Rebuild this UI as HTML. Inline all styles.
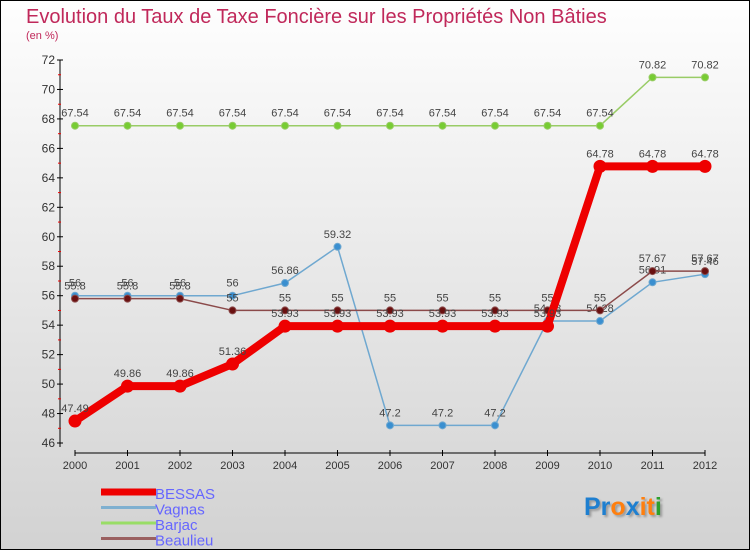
<!DOCTYPE html>
<html><head><meta charset="utf-8"><style>
body{margin:0}
#c{width:750px;height:550px;position:relative;overflow:hidden}
svg text{font-family:"Liberation Sans",sans-serif}
</style></head><body>
<div id="c">
<svg id="s" width="750" height="550" xmlns="http://www.w3.org/2000/svg">
<defs><linearGradient id="bg" x1="0" y1="0" x2="0" y2="1"><stop offset="0" stop-color="#fefefe"/><stop offset="1" stop-color="#d2d2d2"/></linearGradient></defs>
<rect x="0.5" y="0.5" width="749" height="549" fill="url(#bg)" stroke="#000"/>
<text x="26" y="23" font-size="20" fill="#c0285a">Evolution du Taux de Taxe Foncière sur les Propriétés Non Bâties</text>
<text x="26" y="39" font-size="11" fill="#c0285a">(en %)</text>
<g id="axes"></g><g id="series"></g><g id="legend"></g>
<text x="584" y="515" font-size="25" font-weight="bold" style="text-shadow:2px 2px 2px #999"><tspan fill="#1e7fd0">Pr</tspan><tspan fill="#ff7f0e">o</tspan><tspan fill="#1e7fd0">x</tspan><tspan fill="#ff7f0e">it</tspan><tspan fill="#2ca02c">i</tspan></text>
</svg></div>
<script>
const years=["2000","2001","2002","2003","2004","2005","2006","2007","2008","2009","2010","2011","2012"];
const yTicks=[46,48,50,52,54,56,58,60,62,64,66,68,70,72];
const bessas=[47.49,49.86,49.86,51.36,53.93,53.93,53.93,53.93,53.93,53.93,64.78,64.78,64.78];
const vagnas=[56,56,56,56,56.86,59.32,47.2,47.2,47.2,54.28,54.28,56.91,57.46];
const barjac=[67.54,67.54,67.54,67.54,67.54,67.54,67.54,67.54,67.54,67.54,67.54,70.82,70.82];
const beaulieu=[55.8,55.8,55.8,55,55,55,55,55,55,55,55,57.67,57.67];
const NS="http://www.w3.org/2000/svg";
const X=i=>75+i*52.5, Y=v=>443-(v-46)*(383/26);
function mk(t,a,p){const e=document.createElementNS(NS,t);for(const k in a)e.setAttribute(k,a[k]);p.appendChild(e);return e;}
const ax=document.getElementById('axes');
mk('line',{x1:60,y1:60,x2:60,y2:447,stroke:'#000'},ax);
mk('line',{x1:75,y1:453,x2:705,y2:453,stroke:'#000'},ax);
yTicks.forEach(v=>{const y=Y(v);
 mk('line',{x1:57,y1:y,x2:63,y2:y,stroke:'#000'},ax);
 if(v<72)mk('line',{x1:58,y1:y-14.7,x2:61,y2:y-14.7,stroke:'#e00'},ax);
 const t=mk('text',{x:55,y:y+4,'font-size':12,'text-anchor':'end',fill:'#333'},ax);t.textContent=v;
 });
years.forEach((yr,i)=>{mk('line',{x1:X(i),y1:450,x2:X(i),y2:456,stroke:'#000'},ax);
 const t=mk('text',{x:X(i),y:469,'font-size':11,'text-anchor':'middle',fill:'#333'},ax);t.textContent=yr;
 });
const sg=document.getElementById('series');
function draw(name,d,color,w,r,fill){
 const g=mk('g',{},sg);
 
 
 mk('polyline',{points:d.map((v,i)=>X(i)+','+Y(v)).join(' '),fill:'none',stroke:color,'stroke-width':w},g);
 d.forEach((v,i)=>{const c=mk('circle',{cx:X(i),cy:Y(v),r:r,fill:fill,stroke:color,'stroke-width':1},g);
  
  const t=mk('text',{x:X(i),y:Y(v)-9,'font-size':11,'text-anchor':'middle',fill:'#444'},g);t.textContent=String(v);
  });
}
draw('barjac',barjac,'#99cc66',1.5,3.5,'#77cc33');
draw('vagnas',vagnas,'#6fa8d0',1.5,3.5,'#3a8fd0');
draw('beaulieu',beaulieu,'#8b4a4a',1.5,3.5,'#6a1010');
draw('bessas',bessas,'#ee0000',8,6,'#ee0000');
const lg=document.getElementById('legend');
[['BESSAS','#ee0000',7],['Vagnas','#7fb0d0',3],['Barjac','#99dd66',3],['Beaulieu','#9a6060',3]].forEach((e,i)=>{
 const y=492+i*15.5;
 const l=mk('line',{x1:101,y1:y,x2:156,y2:y,stroke:e[1],'stroke-width':e[2]},lg);
 
 const t=mk('text',{x:155,y:y+7,'font-size':15,fill:'#6666ff'},lg);t.textContent=e[0];
 });
</script></body></html>
